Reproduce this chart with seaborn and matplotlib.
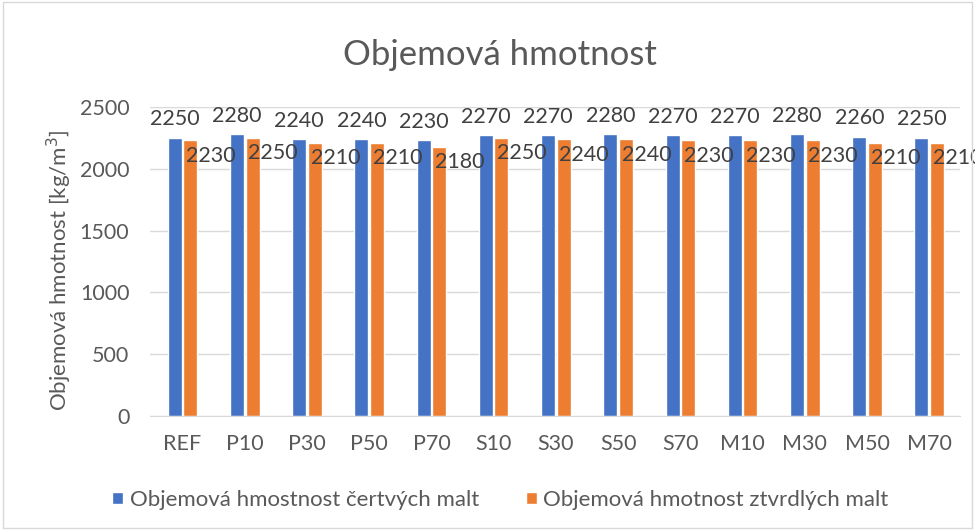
import pandas as pd
import numpy as np
import matplotlib
matplotlib.use('Agg')
import matplotlib.pyplot as plt
import seaborn as sns

# data
kategorie = ['REF', 'P10', 'P30', 'P50', 'P70', 'S10', 'S30', 'S50', 'S70', 'M10', 'M30', 'M50', 'M70']
cerstve = [2250, 2280, 2240, 2240, 2230, 2270, 2270, 2280, 2270, 2270, 2280, 2260, 2250]
ztvrdle = [2230, 2250, 2210, 2210, 2180, 2250, 2240, 2240, 2230, 2230, 2230, 2210, 2210]
serie = ['Objemová hmostnost čertvých malt', 'Objemová hmotnost ztvrdlých malt']

df = pd.DataFrame({'kat': kategorie * 2,
                   'val': cerstve + ztvrdle,
                   'serie': [serie[0]] * len(kategorie) + [serie[1]] * len(kategorie)})

sns.set_style('white')
plt.rcParams['font.family'] = ['Lato', 'DejaVu Sans']
txt = '#595959'

fig = plt.figure(figsize=(9.75, 5.3), dpi=100)
ax = fig.add_axes([0.154, 0.215, 0.831, 0.583])

sns.barplot(data=df, x='kat', y='val', hue='serie', palette=['#4472C4', '#ED7D31'],
            saturation=1, width=0.5, gap=0.1, ax=ax, legend=True)

ax.set_ylim(0, 2500)
ax.set_yticks(range(0, 2501, 500))
ax.yaxis.grid(True, color='#d9d9d9', linewidth=1)
ax.set_axisbelow(True)
for s in ['top', 'right', 'left']:
    ax.spines[s].set_visible(False)
ax.spines['bottom'].set_color('#d9d9d9')
ax.tick_params(axis='both', length=0, labelsize=15.5, colors=txt)
ax.tick_params(axis='x', pad=13)
ax.tick_params(axis='y', pad=15)
ax.set_xlabel('')
ax.set_ylabel('')
ax.set_xlim(-0.52, len(kategorie) - 0.5)
fig.text(59 / 975, 0.49, 'Objemová hmotnost [kg/m$^3$]', rotation=90, ha='center', va='center',
         fontsize=16, color=txt)

# popisky hodnot
c0, c1 = ax.containers[0], ax.containers[1]
for b, v in zip(c0, cerstve):
    ax.text(b.get_x() + b.get_width() / 2, v + 150, str(v), ha='center', va='center',
            fontsize=15.5, color='#404040')
for b, v in zip(c1, ztvrdle):
    ax.text(b.get_x() + b.get_width() * 0.2, v - 125, str(v), ha='left', va='center',
            fontsize=15.5, color='#404040')

fig.text(0.513, 0.896, 'Objemová hmotnost', ha='center', va='center', fontsize=25, color=txt)

h, l = ax.get_legend_handles_labels()
ax.legend_.remove()
fig.legend(h, l, loc='center', bbox_to_anchor=(0.513, 0.057), ncol=2, frameon=False,
           fontsize=16, labelcolor=txt, handlelength=0.5, handleheight=0.5,
           handletextpad=0.3, columnspacing=2.1)

fig.patches.append(plt.Rectangle((0.003, 0.003), 0.994, 0.994, transform=fig.transFigure,
                                 fill=False, edgecolor='#d9d9d9', linewidth=1))

fig.savefig('out.png', dpi=100, facecolor='white')
